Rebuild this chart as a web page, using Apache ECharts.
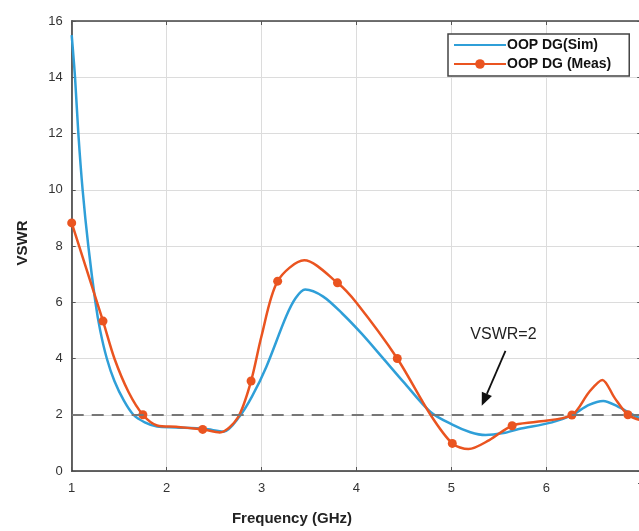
<!DOCTYPE html>
<html>
<head>
<meta charset="utf-8">
<script src="https://cdn.jsdelivr.net/npm/echarts@6/dist/echarts.min.js"></script>
<style>
html,body{margin:0;padding:0;background:#fff;overflow:hidden;width:639px;height:531px;}
#chart{width:700px;height:531px;}
</style>
</head>
<body>
<div id="chart"></div>
<script>
// Simulated VSWR curve (GHz, VSWR)
const simFreq = [1.0, 1.035, 1.07, 1.115, 1.175, 1.25, 1.30, 1.37, 1.45, 1.55, 1.65, 1.77, 1.9, 2.1, 2.4, 2.6, 2.77, 2.9, 3.05, 3.26, 3.36, 3.46, 3.65, 3.85, 4.05, 4.27, 4.5, 4.78, 5.01, 5.2, 5.36, 5.55, 5.71, 6.06, 6.27, 6.45, 6.6, 6.75, 6.88, 7.0];
const simVswr = [15.5, 14.0, 12.0, 10.0, 8.0, 6.0, 5.0, 4.0, 3.2, 2.5, 2.0, 1.73, 1.58, 1.55, 1.5, 1.4, 1.95, 2.65, 3.7, 5.5, 6.15, 6.45, 6.2, 5.6, 4.9, 4.05, 3.15, 2.1, 1.65, 1.38, 1.28, 1.35, 1.49, 1.73, 1.99, 2.35, 2.49, 2.3, 2.06, 1.85];

// Measured VSWR curve; marker flags where the measured points are drawn
const measFreq = [1.0, 1.33, 1.45, 1.6, 1.75, 1.9, 2.1, 2.38, 2.56, 2.75, 2.89, 3.0, 3.17, 3.45, 3.8, 4.0, 4.43, 4.78, 5.01, 5.18, 5.4, 5.64, 5.9, 6.27, 6.45, 6.59, 6.72, 6.86, 7.0];
const measVswr = [8.82, 5.33, 4.0, 2.8, 2.0, 1.62, 1.57, 1.48, 1.37, 1.9, 3.2, 4.8, 6.75, 7.49, 6.69, 5.98, 4.0, 2.0, 0.98, 0.78, 1.1, 1.61, 1.75, 1.99, 2.8, 3.24, 2.6, 2.0, 1.8];
const measMarker = [1, 1, 0, 0, 1, 0, 0, 1, 0, 0, 1, 0, 1, 0, 1, 0, 1, 0, 1, 0, 0, 1, 0, 1, 0, 0, 0, 1, 0];

const xTicks = [1, 2, 3, 4, 5, 6, 7];
const yTicks = [0, 2, 4, 6, 8, 10, 12, 14, 16];
const threshold = 2;
const seriesNames = ['OOP DG(Sim)', 'OOP DG (Meas)'];
const annotationText = 'VSWR=2';

const blue = '#2f9fd8';
const orange = '#ea5420';

const simData = simFreq.map((f, i) => [f, simVswr[i]]);
const measData = measFreq.map((f, i) => ({
  value: [f, measVswr[i]],
  symbol: measMarker[i] ? 'circle' : 'none',
  symbolSize: measMarker[i] ? 9 : 0
}));

const chart = echarts.init(document.getElementById('chart'), null, {renderer: 'canvas'});
const gridLeft = 71.7, gridTop = 21, gridW = 569.5, gridH = 451;

const axisCommon = {
  axisLine: {show: true, lineStyle: {color: '#333', width: 1.5}},
  axisTick: {show: true, inside: true, length: 4, lineStyle: {color: '#555'}},
  splitLine: {show: true, lineStyle: {color: '#dcdcdc', width: 1}},
  axisLabel: {color: '#333', fontFamily: 'Liberation Sans, Arial', fontSize: 13}
};

chart.setOption({
  animation: false,
  backgroundColor: '#fff',
  grid: {left: gridLeft, top: gridTop, width: gridW, height: gridH, show: false},
  xAxis: [{
    type: 'value', min: 1, max: 7, interval: 1,
    name: 'Frequency (GHz)', nameLocation: 'middle', nameGap: 40,
    nameTextStyle: {color: '#222', fontFamily: 'Liberation Sans, Arial', fontSize: 15, fontWeight: 'bold', padding: [0, 0, 0, -129]},
    ...axisCommon,
    axisLabel: {...axisCommon.axisLabel, margin: 11, formatter: v => xTicks.includes(v) ? String(v) : ''}
  }, {
    type: 'value', min: 1, max: 7, interval: 1, position: 'top',
    axisLine: {show: true, onZero: false, lineStyle: {color: '#444', width: 1.5}},
    axisTick: {show: true, inside: true, length: 4, lineStyle: {color: '#555'}},
    axisLabel: {show: false}, splitLine: {show: false}
  }],
  yAxis: [{
    type: 'value', min: 0, max: 16, interval: 2,
    name: 'VSWR', nameLocation: 'middle', nameGap: 41, nameRotate: 90,
    nameTextStyle: {color: '#222', fontFamily: 'Liberation Sans, Arial', fontSize: 15, fontWeight: 'bold', padding: [0, 0, 0, 6]},
    ...axisCommon,
    axisLabel: {...axisCommon.axisLabel, margin: 9, padding: [0, 0, 7, 0], formatter: v => yTicks.includes(v) ? String(v) : ''}
  }, {
    type: 'value', min: 0, max: 16, interval: 2, position: 'right',
    axisLine: {show: true, onZero: false, lineStyle: {color: '#444', width: 1.5}},
    axisTick: {show: true, inside: true, length: 4, lineStyle: {color: '#555'}},
    axisLabel: {show: false}, splitLine: {show: false}
  }],
  legend: {
    show: true,
    data: [{name: seriesNames[0], itemStyle: {opacity: 0}}, {name: seriesNames[1]}],
    orient: 'vertical',
    left: 448, top: 34,
    padding: [4, 18, 5, 5],
    itemGap: 5,
    itemWidth: 52, itemHeight: 12,
    borderColor: '#444', borderWidth: 1.5, borderRadius: 0,
    backgroundColor: '#fff',
    textStyle: {color: '#111', fontFamily: 'Liberation Sans, Arial', fontSize: 14, lineHeight: 14, fontWeight: 'bold', padding: [0, 0, 0, -4]}
  },
  series: [{
    name: seriesNames[0], type: 'line', data: simData,
    smooth: 0.3, symbol: 'none', showSymbol: false,
    lineStyle: {color: blue, width: 2.5}, itemStyle: {color: blue},
    z: 3
  }, {
    name: seriesNames[1], type: 'line', data: measData,
    smooth: 0.3, symbol: 'circle', symbolSize: 9, showAllSymbol: true,
    lineStyle: {color: orange, width: 2.5}, itemStyle: {color: orange},
    z: 4,
    markLine: {
      silent: true, symbol: 'none',
      lineStyle: {color: '#777', type: [12, 8], width: 2},
      label: {show: false},
      data: [{yAxis: threshold}]
    }
  }]
});

// Annotation text and arrow placed in data coordinates
const textPos = chart.convertToPixel({gridIndex: 0}, [5.2, 4.85]);
const arrowStart = chart.convertToPixel({gridIndex: 0}, [5.57, 4.27]);
const arrowEnd = chart.convertToPixel({gridIndex: 0}, [5.32, 2.32]);
const ang = Math.atan2(arrowEnd[1] - arrowStart[1], arrowEnd[0] - arrowStart[0]);
const hl = 13, hw = 5.5;
const p1 = [arrowEnd[0] - hl * Math.cos(ang) + hw * Math.sin(ang), arrowEnd[1] - hl * Math.sin(ang) - hw * Math.cos(ang)];
const p2 = [arrowEnd[0] - hl * Math.cos(ang) - hw * Math.sin(ang), arrowEnd[1] - hl * Math.sin(ang) + hw * Math.cos(ang)];
chart.setOption({
  graphic: [
    {type: 'text', x: textPos[0], y: textPos[1], style: {text: annotationText, fill: '#222', font: '16px "Liberation Sans", Arial', textAlign: 'left', textVerticalAlign: 'middle'}},
    {type: 'line', shape: {x1: arrowStart[0], y1: arrowStart[1], x2: (p1[0] + p2[0]) / 2, y2: (p1[1] + p2[1]) / 2}, style: {stroke: '#111', lineWidth: 1.8}},
    {type: 'polygon', shape: {points: [arrowEnd, p1, p2]}, style: {fill: '#111'}}
  ]
});
</script>
</body>
</html>
